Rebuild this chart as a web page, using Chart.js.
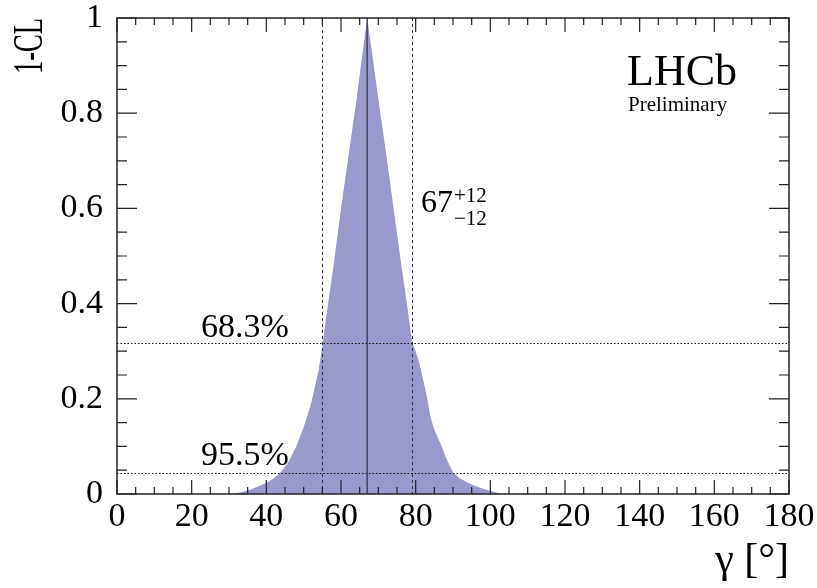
<!DOCTYPE html>
<html lang="en">
<head>
    <meta charset="UTF-8">
    <title>1-CL scan of gamma</title>
    <script src="https://cdn.jsdelivr.net/npm/chart.js"></script>
    <style>
        body { margin: 0; background: #FFFFFF; }
        canvas { display: block; }
    </style>
</head>
<body>
    <canvas id="clCanvas" width="817" height="588"></canvas>

    <script>
        // Values
        const gammaDeg   = [30, 33, 36, 40, 42, 44, 46, 48, 50, 52, 54, 55, 56, 58, 60, 62, 64, 66, 67,
                            68, 70, 72, 74, 76, 78, 79, 80, 81, 83, 84, 85, 87, 88, 90, 92, 95, 98, 100, 103];
        const oneMinusCL = [0, 0.003, 0.01, 0.023, 0.033, 0.047, 0.068, 0.1, 0.14, 0.19, 0.26, 0.31, 0.37, 0.48, 0.6, 0.71, 0.82, 0.94, 1,
                            0.945, 0.83, 0.72, 0.605, 0.49, 0.38, 0.32, 0.3, 0.275, 0.205, 0.16, 0.135, 0.1, 0.078, 0.045, 0.032, 0.02, 0.011, 0.007, 0];

        const clLevels   = [0.317, 0.045];
        const clLabels   = ['68.3%', '95.5%'];
        const bestFit    = 67;
        const errMinus   = 12;
        const errPlus    = 12;

        const xRange = [0, 180];
        const yRange = [0, 1];

        const SERIF = "'Liberation Serif', 'DejaVu Serif', serif";

        // ROOT style frame, inner ticks, CL lines and labels
        const rootStyle = {
            id: 'rootStyle',
            afterDatasetsDraw(chart) {
                const ctx = chart.ctx;
                const xs = chart.scales.x, ys = chart.scales.y;
                const a = chart.chartArea;
                ctx.save();

                // horizontal CL lines (dotted)
                ctx.strokeStyle = '#111';
                ctx.lineWidth = 1;
                ctx.setLineDash([1.5, 2]);
                clLevels.forEach(v => {
                    const py = Math.round(ys.getPixelForValue(v)) + 0.5;
                    ctx.beginPath(); ctx.moveTo(a.left, py); ctx.lineTo(a.right, py); ctx.stroke();
                });

                // interval edges (dashed)
                ctx.strokeStyle = '#2b2b4d';
                ctx.setLineDash([3, 3]);
                [bestFit - errMinus, bestFit + errPlus].forEach(v => {
                    const px = Math.round(xs.getPixelForValue(v)) + 0.5;
                    ctx.beginPath(); ctx.moveTo(px, a.top); ctx.lineTo(px, a.bottom); ctx.stroke();
                });

                // best fit (solid)
                ctx.setLineDash([]);
                ctx.strokeStyle = '#33334d';
                ctx.lineWidth = 1.3;
                const pb = xs.getPixelForValue(bestFit);
                ctx.beginPath(); ctx.moveTo(pb, a.top); ctx.lineTo(pb, a.bottom); ctx.stroke();

                // frame
                ctx.strokeStyle = '#222';
                ctx.lineWidth = 1.5;
                ctx.strokeRect(a.left, a.top, a.right - a.left, a.bottom - a.top);

                // ticks on all four sides, pointing inwards
                ctx.lineWidth = 1.2;
                ctx.beginPath();
                for (let v = xRange[0]; v <= xRange[1]; v += 5) {
                    const px = xs.getPixelForValue(v);
                    const len = v % 20 === 0 ? 14 : 7;
                    ctx.moveTo(px, a.bottom); ctx.lineTo(px, a.bottom - len);
                    ctx.moveTo(px, a.top); ctx.lineTo(px, a.top + len);
                }
                for (let i = 0; i <= 20; i++) {
                    const v = i * 0.05;
                    const py = ys.getPixelForValue(v);
                    const len = i % 4 === 0 ? 20 : 10;
                    ctx.moveTo(a.left, py); ctx.lineTo(a.left + len, py);
                    ctx.moveTo(a.right, py); ctx.lineTo(a.right - len, py);
                }
                ctx.stroke();

                // texts
                ctx.fillStyle = '#000';
                ctx.textAlign = 'left';
                ctx.textBaseline = 'alphabetic';
                ctx.font = '34px ' + SERIF;
                const lx = xs.getPixelForValue(22.5);
                ctx.fillText(clLabels[0], lx, ys.getPixelForValue(clLevels[0]) - 6);
                ctx.fillText(clLabels[1], lx, ys.getPixelForValue(clLevels[1]) - 8);

                // 67 +12 -12
                const tx = xs.getPixelForValue(bestFit + errPlus) + 9;
                ctx.font = '32px ' + SERIF;
                ctx.fillText(String(bestFit), tx, 212);
                const w67 = ctx.measureText(String(bestFit)).width;
                ctx.font = '21px ' + SERIF;
                ctx.fillText('+' + errPlus, tx + w67 + 1, 202);
                ctx.fillText('\u2212' + errMinus, tx + w67 + 1, 225);

                // experiment label
                ctx.font = '44px ' + SERIF;
                ctx.fillText('LHCb', 627, 85);
                ctx.font = '21px ' + SERIF;
                ctx.fillText('Preliminary', 628, 111);

                // axis titles
                ctx.font = '42px ' + SERIF;
                ctx.textAlign = 'right';
                ctx.fillText('\u03b3 [\u00b0]', a.right, 572);

                ctx.translate(42, a.top);
                ctx.rotate(-Math.PI / 2);
                ctx.textAlign = 'right';
                ctx.fillText('1-CL', 0, 0, 56);

                ctx.restore();
            }
        };

        const ctx = document.getElementById('clCanvas').getContext('2d');
        new Chart(ctx, {
            type: 'line',
            data: {
                datasets: [{
                    label: '1-CL',
                    data: gammaDeg.map((g, i) => ({ x: g, y: oneMinusCL[i] })),
                    backgroundColor: '#9999cc',
                    borderWidth: 0,
                    pointRadius: 0,
                    tension: 0,
                    fill: 'origin'
                }]
            },
            options: {
                responsive: false,
                animation: false,
                layout: { padding: { top: 18, right: 28, left: 0, bottom: 0 } },
                scales: {
                    x: {
                        type: 'linear',
                        min: xRange[0], max: xRange[1],
                        grid: { display: false, drawTicks: false },
                        border: { display: false },
                        ticks: {
                            stepSize: 20,
                            padding: 3,
                            maxRotation: 0,
                            color: '#000',
                            font: { family: SERIF, size: 34 }
                        },
                        afterFit(scale) {
                            scale.height = 94;
                            scale.paddingLeft = 0;
                            scale.paddingRight = 0;
                        }
                    },
                    y: {
                        min: yRange[0], max: yRange[1],
                        grid: { display: false, drawTicks: false },
                        border: { display: false },
                        ticks: {
                            stepSize: 0.2,
                            padding: 14,
                            color: '#000',
                            font: { family: SERIF, size: 34 },
                            callback: v => String(Number(v.toFixed(1)))
                        },
                        afterFit(scale) {
                            scale.width = 117;
                            // let the layout padding alone decide the frame top
                            scale.paddingTop = 0;
                            scale.paddingBottom = 0;
                        }
                    }
                },
                plugins: {
                    legend: { display: false },
                    tooltip: { enabled: false }
                }
            },
            plugins: [rootStyle]
        });
    </script>
</body>
</html>
